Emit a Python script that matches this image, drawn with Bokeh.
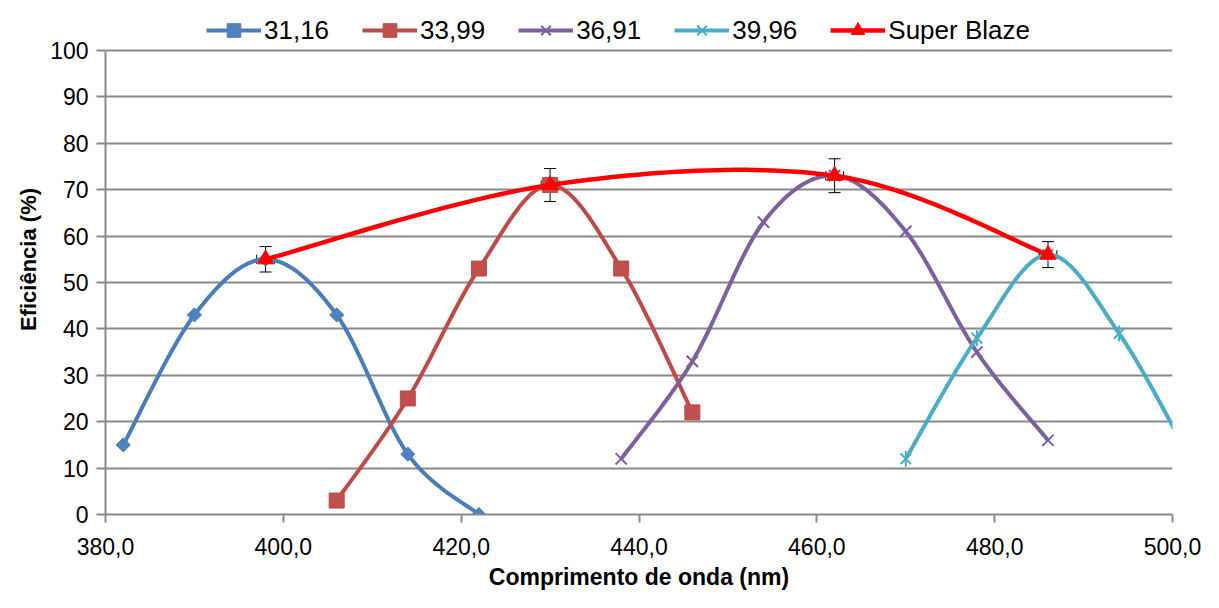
import numpy as np
from bokeh.plotting import figure
from bokeh.models import (ColumnDataSource, Range1d, FixedTicker, Legend, LegendItem,
                          Whisker, TeeHead)
from bokeh.embed import file_html
from bokeh.resources import INLINE

# ---- data ----
wl_3116 = [382, 390, 398, 406, 414, 422]
ef_3116 = [15, 43, 55, 43, 13, 0]
wl_3399 = [406, 414, 422, 430, 438, 446]
ef_3399 = [3, 25, 53, 71, 53, 22]
wl_3691 = [438, 446, 454, 462, 470, 478, 486]
ef_3691 = [12, 33, 63, 73, 61, 35, 16]
wl_3996 = [470, 478, 486, 494, 502]
ef_3996 = [12, 38, 56, 39, 12]
wl_sb = [398, 430, 462, 486]
ef_sb = [55, 71, 73, 56]
err_sb_y = [2.75, 3.55, 3.65, 2.8]
err_sb_x = [1.0, 1.0, 1.0, 1.0]

series_names = ["31,16", "33,99", "36,91", "39,96", "Super Blaze"]
x_ticks = [380, 400, 420, 440, 460, 480, 500]
x_tick_labels = ["380,0", "400,0", "420,0", "440,0", "460,0", "480,0", "500,0"]
y_ticks = [0, 10, 20, 30, 40, 50, 60, 70, 80, 90, 100]


def smooth(xs, ys, n=30):
    """Excel-like smoothed line (Catmull-Rom Bezier) through the data points."""
    P = np.column_stack([xs, ys]).astype(float)
    out = [P[0]]
    m = len(P)
    for i in range(m - 1):
        p0 = P[i - 1] if i > 0 else P[i]
        p1 = P[i]
        p2 = P[i + 1]
        p3 = P[i + 2] if i + 2 < m else P[i + 1]
        c1 = p1 + (p2 - p0) / 6.0
        c2 = p2 - (p3 - p1) / 6.0
        t = np.linspace(0, 1, n + 1)[1:, None]
        seg = ((1 - t) ** 3) * p1 + 3 * ((1 - t) ** 2) * t * c1 + 3 * (1 - t) * t ** 2 * c2 + t ** 3 * p2
        out.extend(seg)
    out = np.array(out)
    return out[:, 0], out[:, 1]


W, H = 1203, 592
BL, BR, BT, BB = 105, 31, 4, 77
FH = H - BT - BB                     # frame height in px
PX_PER_UNIT = (515 - 50) / 100.0     # 0 at y=515, 100 at y=50
Y_TOP = 100 + (50 - BT) / PX_PER_UNIT  # headroom above 100 for the legend

p = figure(width=W, height=H, output_backend="svg", toolbar_location=None,
           x_range=Range1d(380, 500), y_range=Range1d(0, Y_TOP),
           min_border_left=BL, min_border_right=BR, min_border_top=BT, min_border_bottom=BB)
p.outline_line_color = None
p.background_fill_color = "white"
p.border_fill_color = "white"

grid_col = "#898989"
p.xgrid.grid_line_color = None
p.ygrid.grid_line_color = grid_col
p.ygrid.grid_line_width = 2
p.ygrid.ticker = FixedTicker(ticks=y_ticks)

# axes
xa = p.xaxis[0]
xa.ticker = FixedTicker(ticks=x_ticks)
xa.major_label_overrides = {t: l for t, l in zip(x_ticks, x_tick_labels)}
xa.minor_tick_line_color = None
xa.axis_line_color = grid_col
xa.axis_line_width = 2
xa.major_tick_line_color = grid_col
xa.major_tick_line_width = 2
xa.major_tick_out = 8
xa.major_tick_in = 0
xa.major_label_text_font = "Liberation Sans"
xa.major_label_text_font_size = "23px"
xa.major_label_text_color = "black"
xa.major_label_standoff = 15
xa.axis_label = "Comprimento de onda (nm)"
xa.axis_label_text_font = "Liberation Sans"
xa.axis_label_text_font_style = "bold"
xa.axis_label_text_font_size = "23px"
xa.axis_label_text_color = "black"
xa.axis_label_standoff = 6

ya = p.yaxis[0]
ya.ticker = FixedTicker(ticks=y_ticks)
ya.bounds = (0, 100)
ya.minor_tick_line_color = None
ya.axis_line_color = grid_col
ya.axis_line_width = 2
ya.major_tick_line_color = grid_col
ya.major_tick_line_width = 2
ya.major_tick_out = 9
ya.major_tick_in = 0
ya.major_label_text_font = "Liberation Sans"
ya.major_label_text_font_size = "23px"
ya.major_label_text_color = "black"
ya.major_label_standoff = 8
ya.axis_label = "Eficiência (%)"
ya.axis_label_text_font = "Liberation Sans"
ya.axis_label_text_font_style = "bold"
ya.axis_label_text_font_size = "22px"
ya.axis_label_text_color = "black"
ya.axis_label_standoff = 6

items = []
LW = 4

# 31,16 (blue diamonds)
c1 = "#4A7EBB"
sx, sy = smooth(wl_3116, ef_3116)
r1l = p.line(sx, sy, line_color=c1, line_width=LW)
r1m = p.scatter(wl_3116, ef_3116, marker="square", angle=np.pi / 4, size=10,
                fill_color="#4F81BD", line_color=c1, line_width=1)
items.append(LegendItem(label=series_names[0], renderers=[r1l, r1m]))

# 33,99 (red squares)
c2 = "#BE4B48"
sx, sy = smooth(wl_3399, ef_3399)
r2l = p.line(sx, sy, line_color=c2, line_width=LW)
r2m = p.scatter(wl_3399, ef_3399, marker="square", size=15,
                fill_color="#C0504D", line_color=c2, line_width=1)
items.append(LegendItem(label=series_names[1], renderers=[r2l, r2m]))

# 36,91 (purple x)
c3 = "#7D60A0"
sx, sy = smooth(wl_3691, ef_3691)
r3l = p.line(sx, sy, line_color=c3, line_width=LW)
r3m = p.scatter(wl_3691, ef_3691, marker="x", size=16, line_color=c3, line_width=2)
items.append(LegendItem(label=series_names[2], renderers=[r3l, r3m]))

# 39,96 (cyan star)
c4 = "#4BACC6"
sx, sy = smooth(wl_3996, ef_3996)
r4l = p.line(sx, sy, line_color=c4, line_width=LW)
r4m = p.scatter(wl_3996, ef_3996, marker="x", size=15, line_color=c4, line_width=2)
r4d = p.scatter(wl_3996, ef_3996, marker="dash", angle=np.pi / 2, size=16, line_color=c4, line_width=2)
items.append(LegendItem(label=series_names[3], renderers=[r4l, r4m, r4d]))

# Super Blaze with error bars
c5 = "#FF0000"
sx, sy = smooth(wl_sb, ef_sb)
r5l = p.line(sx, sy, line_color=c5, line_width=4.5)
err_src = ColumnDataSource(dict(
    x=wl_sb, y=ef_sb,
    ylo=[v - e for v, e in zip(ef_sb, err_sb_y)], yhi=[v + e for v, e in zip(ef_sb, err_sb_y)],
    xlo=[v - e for v, e in zip(wl_sb, err_sb_x)], xhi=[v + e for v, e in zip(wl_sb, err_sb_x)],
))
p.add_layout(Whisker(source=err_src, base="x", lower="ylo", upper="yhi", dimension="height",
                     line_color="black", line_width=1,
                     upper_head=TeeHead(size=12, line_color="black", line_width=1),
                     lower_head=TeeHead(size=12, line_color="black", line_width=1)))
p.add_layout(Whisker(source=err_src, base="y", lower="xlo", upper="xhi", dimension="width",
                     line_color="black", line_width=1,
                     upper_head=TeeHead(size=9, line_color="black", line_width=1),
                     lower_head=TeeHead(size=9, line_color="black", line_width=1)))
r5m = p.scatter("x", "y", source=err_src, marker="triangle", size=16,
                fill_color=c5, line_color=c5)
items.append(LegendItem(label=series_names[4], renderers=[r5l, r5m]))

# legend sits in the headroom above y=100
legend = Legend(items=items, orientation="horizontal", location=(101, FH - (50 - BT) + 2),
                glyph_width=55, glyph_height=34, label_standoff=3, spacing=33,
                padding=0, margin=0, border_line_color=None, background_fill_alpha=0,
                label_text_font="Liberation Sans", label_text_font_size="26px",
                label_text_color="black")
p.add_layout(legend, "center")

open("out.html", "w").write(file_html(p, INLINE))
